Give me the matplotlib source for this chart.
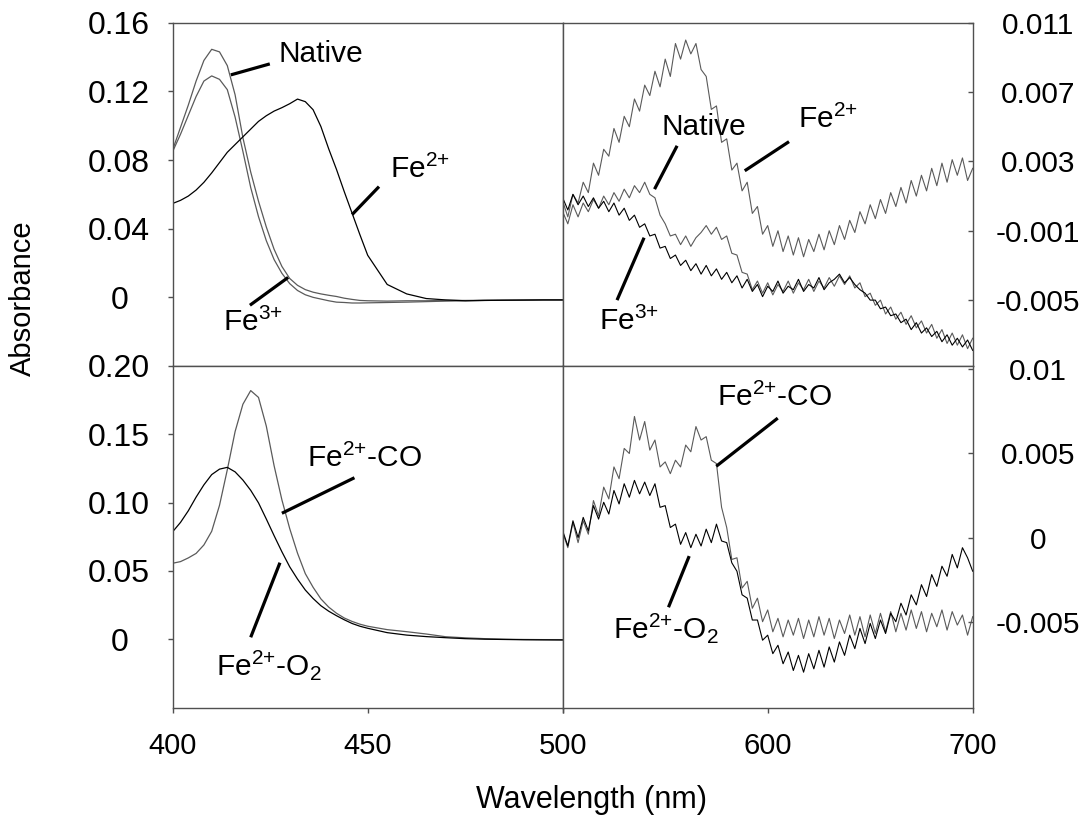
import numpy as np
import matplotlib
matplotlib.use('Agg')
import matplotlib.pyplot as plt

plt.rcParams['font.family'] = ['Liberation Sans', 'DejaVu Sans']
plt.rcParams['mathtext.fontset'] = 'custom'
plt.rcParams['mathtext.rm'] = 'Liberation Sans'
plt.rcParams['mathtext.it'] = 'Liberation Sans:italic'
plt.rcParams['mathtext.bf'] = 'Liberation Sans:bold'

# ---- wavelength grids (nm) ----
wl_left = np.concatenate([np.arange(400, 451, 2), np.arange(455, 501, 5)])
wl_right = np.arange(500, 700.1, 2.5)

# ---- Soret region, top panel ----
native_soret = [0.086, 0.099, 0.112, 0.126, 0.138, 0.1445, 0.143, 0.135, 0.118, 0.093,
                0.073, 0.056, 0.041, 0.028, 0.018, 0.011, 0.007, 0.0045, 0.003, 0.002,
                0.0012, 0.0005, -0.0005, -0.0012, -0.0018, -0.002,
                -0.0022, -0.002, -0.002, -0.0018, -0.0018, -0.0017, -0.0016, -0.0016, -0.0015, -0.0015]
fe3_soret = [0.085, 0.095, 0.106, 0.117, 0.126, 0.129, 0.127, 0.121, 0.105, 0.085,
             0.064, 0.047, 0.033, 0.022, 0.014, 0.008, 0.004, 0.0015, 0.0, -0.001,
             -0.002, -0.0028, -0.003, -0.0033, -0.0033, -0.0032,
             -0.003, -0.0028, -0.0025, -0.0022, -0.002, -0.0018, -0.0017, -0.0016, -0.0015, -0.0015]
fe2_soret = [0.0547, 0.0565, 0.059, 0.0625, 0.067, 0.0725, 0.0785, 0.0845, 0.089, 0.0935,
             0.098, 0.1025, 0.1058, 0.1085, 0.1105, 0.1128, 0.1155, 0.1140, 0.1093, 0.0995,
             0.0865, 0.0745, 0.0615, 0.049, 0.0365, 0.0245,
             0.0075, 0.0020, -0.0007, -0.0015, -0.002, -0.0018, -0.0017, -0.0016, -0.0015, -0.0015]

# ---- Soret region, bottom panel ----
co_soret = [0.0556, 0.0568, 0.0595, 0.0628, 0.069, 0.079, 0.098, 0.124, 0.152, 0.172,
            0.182, 0.177, 0.156, 0.127, 0.102, 0.081, 0.063, 0.048, 0.038, 0.0295,
            0.0235, 0.019, 0.0155, 0.013, 0.011, 0.0095,
            0.007, 0.0055, 0.0038, 0.0018, 0.0010, 0.0004, 0.0, -0.0002, -0.0003, -0.0003]
o2_soret = [0.0787, 0.0855, 0.094, 0.104, 0.113, 0.1205, 0.1245, 0.1258, 0.1225, 0.1165,
            0.109, 0.0998, 0.088, 0.0758, 0.064, 0.053, 0.044, 0.036, 0.0298, 0.0245,
            0.0205, 0.0172, 0.0142, 0.0115, 0.0095, 0.008,
            0.0048, 0.0030, 0.0019, 0.0011, 0.0004, 0.0, -0.0002, -0.0004, -0.0005, -0.0006]

# ---- visible region (values in 1e-3 absorbance) ----
fe2_vis = [0.7, -0.2, 1.1, 0.6, 1.8, 1.2, 2.9, 2.2, 3.7, 3.3, 4.9, 4.1, 5.6, 5.0, 6.6, 5.9,
           7.4, 6.8, 8.2, 7.3, 8.9, 7.9, 9.8, 8.9, 10.0, 9.2, 9.8, 8.3, 7.9, 6.0, 6.2, 4.1,
           4.3, 2.5, 2.9, 1.3, 1.8, 0.0, 0.4, -1.2, -0.7, -1.9, -1.0, -2.2, -1.3, -2.4, -1.4,
           -2.5, -1.5, -2.2, -1.2, -2.1, -1.0, -1.8, -0.7, -1.5, -0.4, -1.1, 0.1, -0.6, 0.5,
           -0.3, 0.8, 0.0, 1.2, 0.4, 1.5, 0.6, 1.9, 1.0, 2.2, 1.3, 2.6, 1.6, 2.9, 1.8, 3.1,
           2.2, 3.2, 1.9, 2.6]
native_vis = [0.1, -0.6, 0.5, -0.2, 0.6, 0.1, 0.8, 0.3, 1.0, 0.5, 1.2, 0.7, 1.4, 0.9, 1.6, 1.2,
              1.8, 1.1, 0.9, -0.1, -0.6, -1.3, -1.2, -1.8, -1.3, -1.9, -1.4, -1.1, -0.7, -1.2,
              -0.8, -1.5, -1.3, -2.3, -2.4, -3.4, -3.5, -4.4, -3.9, -4.6, -4.0, -4.7, -4.1, -4.5,
              -3.9, -4.6, -4.0, -4.4, -3.8, -4.5, -3.9, -4.3, -3.7, -4.2, -3.6, -4.1, -3.6, -4.3,
              -4.0, -4.8, -4.6, -5.3, -5.0, -5.8, -5.4, -6.1, -5.7, -6.4, -5.9, -6.6, -6.2, -6.9,
              -6.4, -7.2, -6.7, -7.5, -6.9, -7.6, -7.0, -7.8, -7.2]
fe3_vis = [0.9, 0.2, 1.1, 0.5, 1.0, 0.4, 0.9, 0.3, 0.7, 0.1, 0.6, -0.1, 0.3, -0.4, -0.1, -0.8,
           -0.6, -1.3, -1.2, -2.0, -1.9, -2.6, -2.4, -3.0, -2.7, -3.3, -2.9, -3.5, -3.0, -3.6,
           -3.2, -3.8, -3.4, -4.0, -3.6, -4.3, -3.8, -4.5, -4.1, -4.8, -4.2, -4.5, -3.9, -4.6,
           -4.2, -4.4, -3.8, -4.5, -4.1, -4.3, -3.7, -4.4, -4.0, -3.8, -3.5, -4.0, -3.7, -4.1,
           -4.4, -4.6, -5.0, -5.0, -5.5, -5.4, -5.9, -5.8, -6.3, -6.1, -6.7, -6.3, -6.9, -6.6,
           -7.1, -6.8, -7.4, -7.0, -7.6, -7.2, -7.7, -7.3, -7.9]
co_vis = [0.3, -0.6, 0.9, -0.3, 1.0, 0.2, 2.2, 1.3, 3.0, 2.3, 4.2, 3.5, 5.3, 5.0, 7.2, 5.8,
          6.9, 5.2, 5.8, 4.2, 4.5, 3.8, 4.6, 4.2, 5.5, 5.1, 6.6, 5.8, 6.0, 4.6, 4.4, 1.8,
          0.6, -1.3, -1.2, -3.0, -2.6, -4.2, -3.6, -5.0, -4.3, -5.6, -4.8, -5.9, -4.9, -5.8,
          -4.8, -6.0, -4.9, -5.9, -4.7, -5.8, -4.8, -6.0, -4.9, -5.7, -4.6, -5.8, -4.7, -5.9,
          -4.6, -5.7, -4.5, -5.6, -4.4, -5.6, -4.5, -5.5, -4.3, -5.4, -4.4, -5.6, -4.5, -5.3,
          -4.3, -5.5, -4.4, -5.2, -4.6, -5.8, -4.7]
o2_vis = [0.4, -0.5, 1.0, 0.0, 1.2, 0.4, 1.9, 1.1, 2.1, 1.4, 2.8, 2.0, 3.2, 2.4, 3.4, 2.6,
          3.3, 2.5, 3.2, 1.8, 1.9, 0.6, 0.8, -0.4, 0.3, -0.6, 0.2, -0.5, 0.5, -0.3, 0.8, -0.2,
          -0.3, -1.5, -2.0, -3.4, -3.6, -4.9, -4.9, -6.1, -5.8, -6.9, -6.4, -7.5, -6.8, -7.9,
          -7.0, -8.0, -6.9, -7.8, -6.7, -7.7, -6.5, -7.4, -6.2, -7.0, -5.8, -6.6, -5.4, -6.3,
          -5.1, -6.0, -4.9, -5.7, -4.5, -5.0, -3.9, -4.6, -3.4, -4.0, -2.8, -3.5, -2.2, -2.9,
          -1.7, -2.3, -1.0, -1.8, -0.6, -1.2, -2.0]

# ---- tick values and labels ----
tl_ticks = [0, 0.04, 0.08, 0.12, 0.16]
tl_labels = ['0', '0.04', '0.08', '0.12', '0.16']
bl_ticks = [0, 0.05, 0.10, 0.15, 0.20]
bl_labels = ['0', '0.05', '0.10', '0.15', '0.20']
tr_ticks = [-0.005, -0.001, 0.003, 0.007, 0.011]
tr_labels = ['-0.005', '-0.001', '0.003', '0.007', '0.011']
br_ticks = [-0.005, 0, 0.005, 0.01]
br_labels = ['-0.005', '0', '0.005', '0.01']

GRAY = '#5a5a5a'
SPINE = '#505050'

fig = plt.figure(figsize=(10.85, 8.16), dpi=100)
W, H = 1085.0, 816.0
xl, xm, xr = 172.7 / W, 562.7 / W, 972.7 / W
yt, ym, yb = 1 - 22.7 / H, 1 - 366.0 / H, 1 - 707.5 / H

ax_tl = fig.add_axes([xl, ym, xm - xl, yt - ym])
ax_tr = fig.add_axes([xm, ym, xr - xm, yt - ym])
ax_bl = fig.add_axes([xl, yb, xm - xl, ym - yb])
ax_br = fig.add_axes([xm, yb, xr - xm, ym - yb])

for ax in (ax_tl, ax_tr, ax_bl, ax_br):
    for s in ax.spines.values():
        s.set_color(SPINE)
        s.set_linewidth(1.0)
    ax.tick_params(colors=SPINE, width=1.0, length=3.5, labelcolor='black')

# curves
ax_tl.plot(wl_left, native_soret, color=GRAY, lw=0.9)
ax_tl.plot(wl_left, fe3_soret, color=GRAY, lw=0.9)
ax_tl.plot(wl_left, fe2_soret, color='black', lw=0.9)
ax_bl.plot(wl_left, co_soret, color=GRAY, lw=0.9)
ax_bl.plot(wl_left, o2_soret, color='black', lw=0.9)
ax_tr.plot(wl_right, np.array(fe2_vis) * 1e-3, color=GRAY, lw=0.8)
ax_tr.plot(wl_right, np.array(native_vis) * 1e-3, color=GRAY, lw=0.8)
ax_tr.plot(wl_right, np.array(fe3_vis) * 1e-3, color='black', lw=0.8)
ax_br.plot(wl_right, np.array(co_vis) * 1e-3, color=GRAY, lw=0.8)
ax_br.plot(wl_right, np.array(o2_vis) * 1e-3, color='black', lw=0.8)

# limits
ax_tl.set_xlim(400, 500)
ax_bl.set_xlim(400, 500)
ax_tr.set_xlim(500, 700)
ax_br.set_xlim(500, 700)
ax_tl.set_ylim(-0.04, 0.16)
ax_bl.set_ylim(-0.05, 0.20)
ax_tr.set_ylim(-0.0088, 0.011)
ax_br.set_ylim(-0.0101, 0.0102)

# left axes
for ax, ticks, labels in ((ax_tl, tl_ticks, tl_labels), (ax_bl, bl_ticks, bl_labels)):
    ax.set_yticks(ticks)
    ax.set_yticklabels(labels, fontsize=23)
    ax.tick_params(axis='y', direction='out', pad=35)
    for lab in ax.get_yticklabels():
        lab.set_horizontalalignment('center')

# right axes
for ax, ticks, labels in ((ax_tr, tr_ticks, tr_labels), (ax_br, br_ticks, br_labels)):
    ax.yaxis.tick_right()
    ax.set_yticks(ticks)
    ax.set_yticklabels(labels, fontsize=21.5)
    ax.tick_params(axis='y', direction='in', pad=47)
    for lab in ax.get_yticklabels():
        lab.set_horizontalalignment('center')

# x axes
for ax in (ax_tl, ax_tr):
    ax.tick_params(axis='x', bottom=False, labelbottom=False)
ax_bl.set_xticks([400, 450, 500])
ax_bl.set_xticklabels(['400', '450', '500'], fontsize=21)
ax_br.set_xticks([500, 600, 700])
ax_br.set_xticklabels(['', '600', '700'], fontsize=21)
for ax in (ax_bl, ax_br):
    ax.tick_params(axis='x', direction='out', pad=14)


def note(ax, text, pos, start, end):
    ax.text(pos[0], pos[1], text, fontsize=21.5, ha='left', va='baseline')
    ax.plot([start[0], end[0]], [start[1], end[1]], color='black', lw=2.3,
            solid_capstyle='butt')


fe2 = r'Fe$^{\mathregular{2{+}}}$'
fe3 = r'Fe$^{\mathregular{3{+}}}$'

note(ax_tl, 'Native', (427.0, 0.1372), (424.9, 0.136), (414.9, 0.1296))
note(ax_tl, fe2, (455.7, 0.0698), (452.9, 0.0645), (446.0, 0.0482))
note(ax_tl, fe3, (412.9, -0.0197), (419.8, -0.0046), (429.6, 0.0116))

note(ax_tr, 'Native', (548.1, 0.0045), (555.8, 0.0039), (544.8, 0.0014))
note(ax_tr, fe2, (615.0, 0.0049), (610.4, 0.00414), (588.8, 0.00246))
note(ax_tr, fe3, (517.7, -0.0067), (526.5, -0.005), (539.7, -0.0014))

note(ax_bl, fe2 + '-CO', (434.4, 0.126), (446.6, 0.1182), (428.0, 0.0922))
note(ax_bl, fe2 + r'-O$_{\mathregular{2}}$', (411.0, -0.026), (420.0, 0.0014), (427.5, 0.056))

note(ax_br, fe2 + '-CO', (575.3, 0.0078), (604.9, 0.0071), (574.9, 0.00424))
note(ax_br, fe2 + r'-O$_{\mathregular{2}}$', (524.5, -0.006), (551.6, -0.00414), (561.7, -0.0011))

fig.text(22.5 / W, 1 - 298 / H, 'Absorbance', rotation=90, fontsize=21,
         ha='center', va='center')
fig.text(591 / W, 1 - 808 / H, 'Wavelength (nm)', fontsize=22,
         ha='center', va='baseline')

fig.savefig('out.png', dpi=100)
